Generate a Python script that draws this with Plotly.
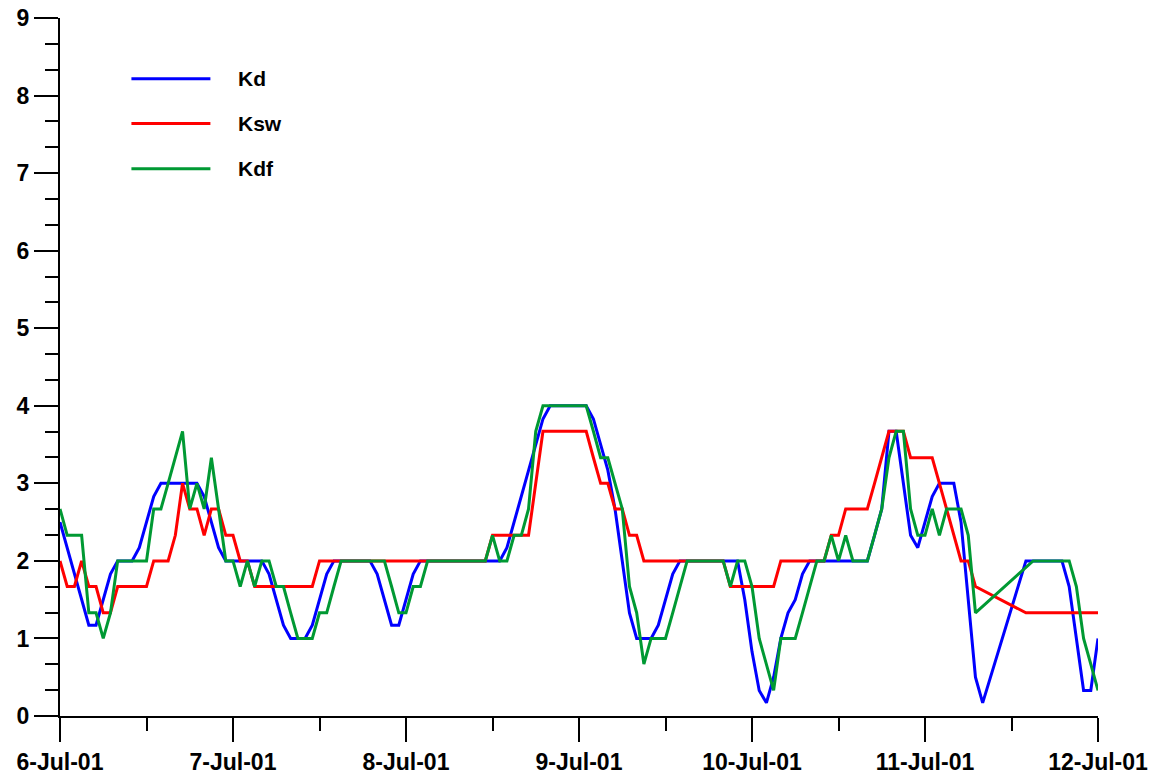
import pandas as pd
import plotly.graph_objects as go

# Hourly K-index series, 6-12 July 2001 (hours counted from 6-Jul 00:00 UT)
kd_hours = list(range(0, 129)) + list(range(134, 145))
kd_values = [
    2.5, 2.17, 1.83, 1.5, 1.17, 1.17, 1.5, 1.83, 2.0, 2.0,
    2.0, 2.17, 2.5, 2.83, 3.0, 3.0, 3.0, 3.0, 3.0, 3.0,
    2.83, 2.5, 2.17, 2.0, 2.0, 2.0, 2.0, 2.0, 2.0, 1.83,
    1.5, 1.17, 1.0, 1.0, 1.0, 1.17, 1.5, 1.83, 2.0, 2.0,
    2.0, 2.0, 2.0, 2.0, 1.83, 1.5, 1.17, 1.17, 1.5, 1.83,
    2.0, 2.0, 2.0, 2.0, 2.0, 2.0, 2.0, 2.0, 2.0, 2.0,
    2.0, 2.0, 2.17, 2.5, 2.83, 3.17, 3.5, 3.83, 4.0, 4.0,
    4.0, 4.0, 4.0, 4.0, 3.83, 3.5, 3.17, 2.67, 2.0, 1.33,
    1.0, 1.0, 1.0, 1.17, 1.5, 1.83, 2.0, 2.0, 2.0, 2.0,
    2.0, 2.0, 2.0, 2.0, 2.0, 1.5, 0.83, 0.33, 0.17, 0.5,
    1.0, 1.33, 1.5, 1.83, 2.0, 2.0, 2.0, 2.0, 2.0, 2.0,
    2.0, 2.0, 2.0, 2.33, 2.67, 3.67, 3.67, 3.0, 2.33, 2.17,
    2.5, 2.83, 3.0, 3.0, 3.0, 2.5, 1.5, 0.5, 0.17,
    2.0, 2.0, 2.0, 2.0, 2.0, 2.0, 1.67, 1.0, 0.33, 0.33, 1.0,
]

ksw_hours = list(range(0, 128)) + list(range(134, 145))
ksw_values = [
    2.0, 1.67, 1.67, 2.0, 1.67, 1.67, 1.33, 1.33, 1.67, 1.67,
    1.67, 1.67, 1.67, 2.0, 2.0, 2.0, 2.33, 3.0, 2.67, 2.67,
    2.33, 2.67, 2.67, 2.33, 2.33, 2.0, 2.0, 1.67, 1.67, 1.67,
    1.67, 1.67, 1.67, 1.67, 1.67, 1.67, 2.0, 2.0, 2.0, 2.0,
    2.0, 2.0, 2.0, 2.0, 2.0, 2.0, 2.0, 2.0, 2.0, 2.0,
    2.0, 2.0, 2.0, 2.0, 2.0, 2.0, 2.0, 2.0, 2.0, 2.0,
    2.33, 2.33, 2.33, 2.33, 2.33, 2.33, 3.0, 3.67, 3.67, 3.67,
    3.67, 3.67, 3.67, 3.67, 3.33, 3.0, 3.0, 2.67, 2.67, 2.33,
    2.33, 2.0, 2.0, 2.0, 2.0, 2.0, 2.0, 2.0, 2.0, 2.0,
    2.0, 2.0, 2.0, 1.67, 1.67, 1.67, 1.67, 1.67, 1.67, 1.67,
    2.0, 2.0, 2.0, 2.0, 2.0, 2.0, 2.0, 2.33, 2.33, 2.67,
    2.67, 2.67, 2.67, 3.0, 3.33, 3.67, 3.67, 3.67, 3.33, 3.33,
    3.33, 3.33, 3.0, 2.67, 2.33, 2.0, 2.0, 1.67,
    1.33, 1.33, 1.33, 1.33, 1.33, 1.33, 1.33, 1.33, 1.33, 1.33, 1.33,
]

kdf_hours = list(range(0, 128)) + list(range(135, 145))
kdf_values = [
    2.67, 2.33, 2.33, 2.33, 1.33, 1.33, 1.0, 1.33, 2.0, 2.0,
    2.0, 2.0, 2.0, 2.67, 2.67, 3.0, 3.33, 3.67, 2.67, 3.0,
    2.67, 3.33, 2.67, 2.0, 2.0, 1.67, 2.0, 1.67, 2.0, 2.0,
    1.67, 1.67, 1.33, 1.0, 1.0, 1.0, 1.33, 1.33, 1.67, 2.0,
    2.0, 2.0, 2.0, 2.0, 2.0, 2.0, 1.67, 1.33, 1.33, 1.67,
    1.67, 2.0, 2.0, 2.0, 2.0, 2.0, 2.0, 2.0, 2.0, 2.0,
    2.33, 2.0, 2.0, 2.33, 2.33, 2.67, 3.67, 4.0, 4.0, 4.0,
    4.0, 4.0, 4.0, 4.0, 3.67, 3.33, 3.33, 3.0, 2.67, 1.67,
    1.33, 0.67, 1.0, 1.0, 1.0, 1.33, 1.67, 2.0, 2.0, 2.0,
    2.0, 2.0, 2.0, 1.67, 2.0, 2.0, 1.67, 1.0, 0.67, 0.33,
    1.0, 1.0, 1.0, 1.33, 1.67, 2.0, 2.0, 2.33, 2.0, 2.33,
    2.0, 2.0, 2.0, 2.33, 2.67, 3.33, 3.67, 3.67, 2.67, 2.33,
    2.33, 2.67, 2.33, 2.67, 2.67, 2.67, 2.33, 1.33,
    2.0, 2.0, 2.0, 2.0, 2.0, 2.0, 1.67, 1.0, 0.67, 0.33,
]

series_names = ["Kd", "Ksw", "Kdf"]
series_colors = ["#0000FF", "#FF0000", "#009933"]

day_labels = ["6-Jul-01", "7-Jul-01", "8-Jul-01", "9-Jul-01",
              "10-Jul-01", "11-Jul-01", "12-Jul-01"]
y_ticks = [0, 1, 2, 3, 4, 5, 6, 7, 8, 9]

start = pd.Timestamp("2001-07-06")


def to_time(hours):
    return start + pd.to_timedelta(hours, unit="h")


day_ticks = [start + pd.Timedelta(days=i) for i in range(len(day_labels))]
half_day_ticks = [start + pd.Timedelta(hours=12 * i) for i in range(13)]

FONT = "Arial, 'Liberation Sans', sans-serif"

fig = go.Figure()
for name, color, hrs, vals in zip(
        series_names, series_colors,
        [kd_hours, ksw_hours, kdf_hours],
        [kd_values, ksw_values, kdf_values]):
    fig.add_trace(go.Scatter(
        x=to_time(hrs), y=vals, mode="lines", name=name,
        line=dict(color=color, width=3), showlegend=False,
    ))

# Hand-drawn legend block in the upper-left corner
legend_x0, legend_x1, legend_text_x = 0.0688, 0.1449, 0.170
legend_y = [0.913, 0.849, 0.784]
for name, color, ly in zip(series_names, series_colors, legend_y):
    fig.add_shape(type="line", xref="paper", yref="paper",
                  x0=legend_x0, x1=legend_x1, y0=ly, y1=ly,
                  line=dict(color=color, width=3))
    fig.add_annotation(xref="paper", yref="paper", x=legend_text_x, y=ly,
                       text=name, showarrow=False, xanchor="left",
                       yanchor="middle",
                       font=dict(family=FONT, size=21, color="black",
                                 weight="bold"))

fig.update_layout(
    width=1156, height=780,
    margin=dict(l=59.5, r=57.7, t=18, b=64),
    paper_bgcolor="white", plot_bgcolor="white",
    font=dict(family=FONT, color="black"),
)

fig.update_xaxes(
    range=[day_ticks[0], day_ticks[-1]],
    automargin=False,
    tickmode="array", tickvals=day_ticks, ticktext=day_labels,
    ticks="outside", ticklen=24, tickwidth=2, tickcolor="black",
    tickfont=dict(family=FONT, size=23, color="black", weight="bold"),
    showline=True, linecolor="black", linewidth=2,
    showgrid=False, zeroline=False,
    minor=dict(tickmode="array", tickvals=half_day_ticks, ticks="outside",
               ticklen=13, tickwidth=2, tickcolor="black", showgrid=False),
)

fig.update_yaxes(
    range=[0, 9],
    automargin=False,
    tickmode="array", tickvals=y_ticks, ticktext=[str(v) for v in y_ticks],
    ticks="outside", ticklen=24, tickwidth=2, tickcolor="black",
    tickfont=dict(family=FONT, size=23, color="black", weight="bold"),
    showline=True, linecolor="black", linewidth=2,
    showgrid=False, zeroline=False,
    minor=dict(dtick=1 / 3, ticks="outside", ticklen=13, tickwidth=2,
               tickcolor="black", showgrid=False),
)

fig.write_html("out.html")
